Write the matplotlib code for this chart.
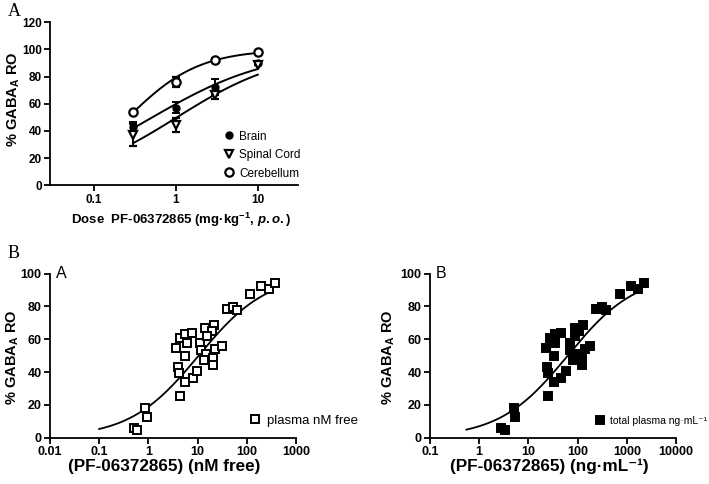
import numpy as np
import matplotlib
matplotlib.use("Agg")
from matplotlib import pyplot as plt
from matplotlib.lines import Line2D

plt.rcParams['font.family'] = ['Liberation Sans', 'DejaVu Sans']
plt.rcParams['font.weight'] = 'bold'
plt.rcParams['axes.labelweight'] = 'bold'
plt.rcParams['mathtext.fontset'] = 'custom'
plt.rcParams['mathtext.rm'] = 'Liberation Sans:bold'
plt.rcParams['mathtext.it'] = 'Liberation Sans:bold:italic'
plt.rcParams['mathtext.bf'] = 'Liberation Sans:bold'

# --- panel A: dose vs receptor occupancy (mean +/- sem)
dosis = [0.3, 1, 3, 10]
brain = [43, 57, 72.5, 90]
brain_err = [3.7, 4, 6, 0]
spinal = [37, 44.5, 66.5, 88.5]
spinal_err = [7.8, 5, 3, 0]
cerebellum = [54, 76, 92, 98]
cerebellum_err = [0, 3.6, 0, 0]

# fit parameters (Emax, EC50, hill)
fit_brain = (100, 0.514, 0.6)
fit_spinal = (100, 1.026, 0.65)
fit_cerebellum = (100, 0.26, 1.0)

# --- panel B: plasma concentration vs RO (same animals)
ro = [5.7, 4.9, 18, 12.9, 25.2, 43, 39.3, 54.9, 60.5, 63.1, 63.5, 57.8,
      49.6, 33.8, 36.5, 40.4, 57.8, 53.7, 66.6, 68.6, 65.2, 61.9, 50.8,
      47.5, 48.8, 44, 54.3, 55.9, 78.3, 79.3, 77.9, 87.5, 92.6, 90.6, 94.3]
libre_nm = [0.50, 0.60, 0.86, 0.92, 4.4, 4.06, 4.25, 3.64, 4.4, 5.5, 7.6, 6.0,
            5.5, 5.5, 7.9, 9.6, 11.1, 11.5, 14.1, 21.8, 19.2, 15.2, 14.8,
            13.4, 20.8, 20.1, 22.5, 30.7, 39.9, 52.9, 63.7, 115, 198, 284, 370]
total_ng = [2.81, 3.4, 5.0, 5.4, 25.2, 24, 24.8, 22.6, 27.2, 35.5, 45, 35.5,
            32.9, 33.9, 46.4, 56.9, 69.8, 69.8, 86.9, 130, 106, 86.9, 86.9,
            81.6, 124, 124, 139, 179, 240, 318, 373, 720, 1245, 1700, 2260]
fit_libre = (100, 10.5, 0.62)
fit_total = (100, 63, 0.625)


def hill(x, params):
    emax, ec50, n = params
    return emax * x**n / (ec50**n + x**n)


def estilo_ejes(ax, tam):
    for lado in ['top', 'right']:
        ax.spines[lado].set_visible(False)
    for lado in ['left', 'bottom']:
        ax.spines[lado].set_linewidth(1.3)
    ax.tick_params(direction='out', length=4, width=1.3, labelsize=tam, pad=2)
    ax.tick_params(which='minor', length=0)


fig = plt.figure(figsize=(7.09, 4.84), dpi=100)

# ---------------- top panel
ax1 = fig.add_axes([50/709, 1 - 185.3/484, 248/709, 163/484])
ax1.set_xscale('log')
xs = np.logspace(np.log10(0.3), 1, 100)
ax1.plot(xs, hill(xs, fit_cerebellum), color='black', lw=1.4)
ax1.plot(xs, hill(xs, fit_brain), color='black', lw=1.4)
ax1.plot(xs, hill(xs, fit_spinal), color='black', lw=1.4)
ax1.errorbar(dosis, brain, yerr=brain_err, fmt='o', color='black', ms=5,
             capsize=3, elinewidth=1.4, capthick=1.4)
ax1.errorbar(dosis, spinal, yerr=spinal_err, fmt='v', color='black', ms=6,
             mfc='white', mew=1.6, capsize=3, elinewidth=1.4, capthick=1.4)
ax1.errorbar(dosis, cerebellum, yerr=cerebellum_err, fmt='o', color='black',
             ms=6, mfc='white', mew=1.6, capsize=3, elinewidth=1.4,
             capthick=1.4)
ax1.set_xlim(0.029, 31)
ax1.set_ylim(0, 120)
ax1.set_yticks([0, 20, 40, 60, 80, 100, 120])
ax1.set_xticks([0.1, 1, 10])
ax1.set_xticklabels(['0.1', '1', '10'])
estilo_ejes(ax1, 8.5)
ax1.set_ylabel('% GABA$_\\mathregular{A}$ RO', fontsize=10.5, va='center')
ax1.yaxis.set_label_coords(-0.145, 0.53)
ax1.set_xlabel('Dose  PF-06372865 (mg·kg$^{-1}$, $\\it{p.o.}$)', fontsize=9.5,
               va='center')
ax1.xaxis.set_label_coords(0.528, -0.213)
manijas = [
    Line2D([], [], marker='o', ls='none', color='black', ms=5),
    Line2D([], [], marker='v', ls='none', color='black', mfc='white', ms=6, mew=1.6),
    Line2D([], [], marker='o', ls='none', color='black', mfc='white', ms=6, mew=1.6),
]
ax1.legend(manijas, ['Brain', 'Spinal Cord', 'Cerebellum'], loc='lower right',
           bbox_to_anchor=(1.052, -0.03), frameon=False, prop={'size': 8.5, 'weight': 'normal'},
           handletextpad=0.2, labelspacing=0.55, handlelength=1.2)

# ---------------- bottom panels
paneles = [
    (50, libre_nm, fit_libre, (0.1, 300), (0.01, 1000), 'white',
     'plasma nM free', 9.5, 1.252, '(PF-06372865) (nM free)', 0.463, 'A',
     [0.01, 0.1, 1, 10, 100, 1000], ['0.01', '0.1', '1', '10', '100', '1000']),
    (430, total_ng, fit_total, (0.55, 2000), (0.1, 10000), 'black',
     'total plasma ng·mL⁻¹', 7.5, 1.126, '(PF-06372865) (ng·mL⁻¹)', 0.484, 'B',
     [0.1, 1, 10, 100, 1000, 10000], ['0.1', '1', '10', '100', '1000', '10000']),
]
for izq, conc, fit, rango, lim, relleno, etiqueta, tam_leg, leg_x, xlab, xlab_x, letra, ticks, tlabels in paneles:
    ax = fig.add_axes([izq/709, 1 - 437.7/484, 246/709, 164.2/484])
    ax.set_xscale('log')
    xs = np.logspace(np.log10(rango[0]), np.log10(rango[1]), 150)
    ax.plot(xs, hill(xs, fit), color='black', lw=1.3)
    ax.plot(conc, ro, 's', ms=6, mfc=relleno, mec='black', mew=1.4,
            ls='none', label=etiqueta, clip_on=False)
    ax.set_xlim(*lim)
    ax.set_ylim(0, 100)
    ax.set_yticks([0, 20, 40, 60, 80, 100])
    ax.set_xticks(ticks)
    ax.set_xticklabels(tlabels)
    estilo_ejes(ax, 9)
    ax.set_ylabel('% GABA$_\\mathregular{A}$ RO', fontsize=10.5, va='center')
    ax.yaxis.set_label_coords((12.5 + (izq - 50) * 0.99 - izq) / 246, 0.49)
    ax.set_xlabel(xlab, fontsize=12.3, va='center')
    ax.xaxis.set_label_coords(xlab_x, -0.176)
    ax.text(0.025, 1.0, letra, transform=ax.transAxes, fontsize=11.5,
            fontweight='normal', va='center', ha='left')
    ax.legend(loc='center right', bbox_to_anchor=(leg_x, 0.104),
              frameon=False, prop={'size': tam_leg, 'weight': 'normal'},
              handletextpad=0.3, handlelength=1.2, borderaxespad=0, borderpad=0)

fig.text(8/709, 1 - 12/484, 'A', family='Liberation Serif', fontsize=13,
         fontweight='normal', va='center', ha='left')
fig.text(8/709, 1 - 253/484, 'B', family='Liberation Serif', fontsize=13,
         fontweight='normal', va='center', ha='left')

fig.savefig('out.png', dpi=100)
